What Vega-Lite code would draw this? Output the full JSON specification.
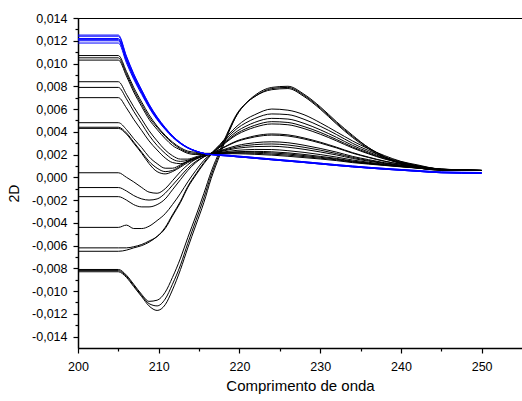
{
"$schema": "https://vega.github.io/schema/vega-lite/v6.json",
"autosize": "none",
"padding": {"left": 78, "top": 18, "right": 0, "bottom": 53},
"width": 444,
"height": 330,
"config": {
  "view": {"stroke": "black", "strokeWidth": 1},
  "font": "Liberation Sans",
  "axis": {"grid": false, "domainColor": "black", "tickColor": "black", "labelColor": "black", "titleColor": "black", "labelFont": "Liberation Sans", "titleFont": "Liberation Sans", "labelFontSize": 12.5, "domainWidth": 1.5, "tickWidth": 1.2, "labelOverlap": false, "titleFontWeight": "normal"}
},
"datasets": {"d": [
{"s":"k1","x":200,"y":-0.0044},{"s":"k1","x":205,"y":-0.0044},{"s":"k1","x":206,"y":-0.0042},{"s":"k1","x":206.9,"y":-0.0045},{"s":"k1","x":207.9,"y":-0.0045},{"s":"k1","x":208.8,"y":-0.0043},{"s":"k1","x":209.8,"y":-0.0038},{"s":"k1","x":210.8,"y":-0.0032},{"s":"k1","x":211.7,"y":-0.0024},{"s":"k1","x":212.7,"y":-0.0014},{"s":"k1","x":213.6,"y":-0.0004},{"s":"k1","x":214.6,"y":0.0006},{"s":"k1","x":215.6,"y":0.0015},{"s":"k1","x":216.5,"y":0.0021},
{"s":"k1","x":217.6,"y":0.00275},{"s":"k1","x":218.7,"y":0.00347},{"s":"k1","x":219.7,"y":0.00405},{"s":"k1","x":220.8,"y":0.00449},{"s":"k1","x":221.9,"y":0.00483},{"s":"k1","x":224,"y":0.00518},{"s":"k1","x":226,"y":0.00512},{"s":"k1","x":228,"y":0.00474},{"s":"k1","x":230,"y":0.00418},{"s":"k1","x":232,"y":0.00352},{"s":"k1","x":234,"y":0.00281},{"s":"k1","x":236,"y":0.00222},{"s":"k1","x":238,"y":0.0017},{"s":"k1","x":240,"y":0.00132},{"s":"k1","x":242,"y":0.00101},{"s":"k1","x":245,"y":0.00072},{"s":"k1","x":250,"y":0.0006},
{"s":"k2","x":200,"y":-0.0017},{"s":"k2","x":205,"y":-0.0017},{"s":"k2","x":206,"y":-0.002},{"s":"k2","x":206.9,"y":-0.0024},{"s":"k2","x":207.9,"y":-0.0026},{"s":"k2","x":208.8,"y":-0.0026},{"s":"k2","x":209.8,"y":-0.0024},{"s":"k2","x":210.8,"y":-0.0019},{"s":"k2","x":211.7,"y":-0.0011},{"s":"k2","x":212.7,"y":-0.0002},{"s":"k2","x":213.6,"y":0.0006},{"s":"k2","x":214.6,"y":0.0013},{"s":"k2","x":215.6,"y":0.0018},{"s":"k2","x":216.5,"y":0.0021},
{"s":"k2","x":217.6,"y":0.00269},{"s":"k2","x":218.7,"y":0.00334},{"s":"k2","x":219.7,"y":0.00387},{"s":"k2","x":220.8,"y":0.00427},{"s":"k2","x":221.9,"y":0.00457},{"s":"k2","x":224,"y":0.00489},{"s":"k2","x":226,"y":0.00482},{"s":"k2","x":228,"y":0.00446},{"s":"k2","x":230,"y":0.00395},{"s":"k2","x":232,"y":0.00333},{"s":"k2","x":234,"y":0.00267},{"s":"k2","x":236,"y":0.00212},{"s":"k2","x":238,"y":0.00164},{"s":"k2","x":240,"y":0.00128},{"s":"k2","x":242,"y":0.00099},{"s":"k2","x":245,"y":0.00071},{"s":"k2","x":250,"y":0.0006},
{"s":"k3","x":200,"y":-0.0009},{"s":"k3","x":205,"y":-0.0009},{"s":"k3","x":206,"y":-0.0012},{"s":"k3","x":206.9,"y":-0.0016},{"s":"k3","x":207.9,"y":-0.0019},{"s":"k3","x":208.8,"y":-0.002},{"s":"k3","x":209.8,"y":-0.0019},{"s":"k3","x":210.8,"y":-0.0014},{"s":"k3","x":211.7,"y":-0.0007},{"s":"k3","x":212.7,"y":0.0001},{"s":"k3","x":213.6,"y":0.0008},{"s":"k3","x":214.6,"y":0.0014},{"s":"k3","x":215.6,"y":0.0018},{"s":"k3","x":216.5,"y":0.0021},
{"s":"k3","x":217.6,"y":0.00265},{"s":"k3","x":218.7,"y":0.00326},{"s":"k3","x":219.7,"y":0.00375},{"s":"k3","x":220.8,"y":0.00412},{"s":"k3","x":221.9,"y":0.0044},{"s":"k3","x":224,"y":0.00469},{"s":"k3","x":226,"y":0.00462},{"s":"k3","x":228,"y":0.00428},{"s":"k3","x":230,"y":0.00379},{"s":"k3","x":232,"y":0.00321},{"s":"k3","x":234,"y":0.00258},{"s":"k3","x":236,"y":0.00206},{"s":"k3","x":238,"y":0.0016},{"s":"k3","x":240,"y":0.00126},{"s":"k3","x":242,"y":0.00098},{"s":"k3","x":245,"y":0.00071},{"s":"k3","x":250,"y":0.0006},
{"s":"k4","x":200,"y":0.0004},{"s":"k4","x":205,"y":0.0004},{"s":"k4","x":206,"y":0.0},{"s":"k4","x":206.9,"y":-0.0004},{"s":"k4","x":207.9,"y":-0.0009},{"s":"k4","x":208.8,"y":-0.0013},{"s":"k4","x":209.8,"y":-0.0014},{"s":"k4","x":210.8,"y":-0.001},{"s":"k4","x":211.7,"y":-0.0003},{"s":"k4","x":212.7,"y":0.0005},{"s":"k4","x":213.6,"y":0.0011},{"s":"k4","x":214.6,"y":0.0016},{"s":"k4","x":215.6,"y":0.0019},{"s":"k4","x":216.5,"y":0.0021},
{"s":"k4","x":217.6,"y":0.00247},{"s":"k4","x":218.7,"y":0.00288},{"s":"k4","x":219.7,"y":0.00321},{"s":"k4","x":220.8,"y":0.00345},{"s":"k4","x":221.9,"y":0.00364},{"s":"k4","x":224,"y":0.00381},{"s":"k4","x":226,"y":0.00373},{"s":"k4","x":228,"y":0.00346},{"s":"k4","x":230,"y":0.00309},{"s":"k4","x":232,"y":0.00265},{"s":"k4","x":234,"y":0.00217},{"s":"k4","x":236,"y":0.00177},{"s":"k4","x":238,"y":0.00142},{"s":"k4","x":240,"y":0.00115},{"s":"k4","x":242,"y":0.00093},{"s":"k4","x":245,"y":0.00069},{"s":"k4","x":250,"y":0.0006},
{"s":"k5","x":200,"y":0.0043},{"s":"k5","x":205,"y":0.0043},{"s":"k5","x":206,"y":0.0038},{"s":"k5","x":206.9,"y":0.003},{"s":"k5","x":207.9,"y":0.0021},{"s":"k5","x":208.8,"y":0.0012},{"s":"k5","x":209.8,"y":0.0005},{"s":"k5","x":210.8,"y":0.0003},{"s":"k5","x":211.7,"y":0.0005},{"s":"k5","x":212.7,"y":0.0009},{"s":"k5","x":213.6,"y":0.0013},{"s":"k5","x":214.6,"y":0.0016},{"s":"k5","x":215.6,"y":0.0019},{"s":"k5","x":216.5,"y":0.0021},
{"s":"k5","x":217.6,"y":0.00245},{"s":"k5","x":218.7,"y":0.00284},{"s":"k5","x":219.7,"y":0.00315},{"s":"k5","x":220.8,"y":0.00338},{"s":"k5","x":221.9,"y":0.00355},{"s":"k5","x":224,"y":0.00371},{"s":"k5","x":226,"y":0.00363},{"s":"k5","x":228,"y":0.00337},{"s":"k5","x":230,"y":0.00301},{"s":"k5","x":232,"y":0.00259},{"s":"k5","x":234,"y":0.00212},{"s":"k5","x":236,"y":0.00174},{"s":"k5","x":238,"y":0.0014},{"s":"k5","x":240,"y":0.00114},{"s":"k5","x":242,"y":0.00092},{"s":"k5","x":245,"y":0.00069},{"s":"k5","x":250,"y":0.0006},
{"s":"k6","x":200,"y":0.0044},{"s":"k6","x":205,"y":0.0044},{"s":"k6","x":206,"y":0.0039},{"s":"k6","x":206.9,"y":0.0031},{"s":"k6","x":207.9,"y":0.0022},{"s":"k6","x":208.8,"y":0.0014},{"s":"k6","x":209.8,"y":0.0008},{"s":"k6","x":210.8,"y":0.0005},{"s":"k6","x":211.7,"y":0.0006},{"s":"k6","x":212.7,"y":0.001},{"s":"k6","x":213.6,"y":0.0014},{"s":"k6","x":214.6,"y":0.0017},{"s":"k6","x":215.6,"y":0.0019},{"s":"k6","x":216.5,"y":0.0021},
{"s":"k6","x":217.6,"y":0.00233},{"s":"k6","x":218.7,"y":0.00259},{"s":"k6","x":219.7,"y":0.00279},{"s":"k6","x":220.8,"y":0.00294},{"s":"k6","x":221.9,"y":0.00304},{"s":"k6","x":224,"y":0.00312},{"s":"k6","x":226,"y":0.00304},{"s":"k6","x":228,"y":0.00282},{"s":"k6","x":230,"y":0.00254},{"s":"k6","x":232,"y":0.00222},{"s":"k6","x":234,"y":0.00184},{"s":"k6","x":236,"y":0.00155},{"s":"k6","x":238,"y":0.00128},{"s":"k6","x":240,"y":0.00107},{"s":"k6","x":242,"y":0.00088},{"s":"k6","x":245,"y":0.00068},{"s":"k6","x":250,"y":0.0006},
{"s":"k7","x":200,"y":0.0048},{"s":"k7","x":205,"y":0.0048},{"s":"k7","x":206,"y":0.0042},{"s":"k7","x":206.9,"y":0.0034},{"s":"k7","x":207.9,"y":0.0026},{"s":"k7","x":208.8,"y":0.0018},{"s":"k7","x":209.8,"y":0.0012},{"s":"k7","x":210.8,"y":0.0008},{"s":"k7","x":211.7,"y":0.0008},{"s":"k7","x":212.7,"y":0.0011},{"s":"k7","x":213.6,"y":0.0014},{"s":"k7","x":214.6,"y":0.0017},{"s":"k7","x":215.6,"y":0.0019},{"s":"k7","x":216.5,"y":0.0021},
{"s":"k7","x":217.6,"y":0.00229},{"s":"k7","x":218.7,"y":0.0025},{"s":"k7","x":219.7,"y":0.00267},{"s":"k7","x":220.8,"y":0.00279},{"s":"k7","x":221.9,"y":0.00287},{"s":"k7","x":224,"y":0.00293},{"s":"k7","x":226,"y":0.00284},{"s":"k7","x":228,"y":0.00264},{"s":"k7","x":230,"y":0.00239},{"s":"k7","x":232,"y":0.00209},{"s":"k7","x":234,"y":0.00175},{"s":"k7","x":236,"y":0.00148},{"s":"k7","x":238,"y":0.00124},{"s":"k7","x":240,"y":0.00104},{"s":"k7","x":242,"y":0.00087},{"s":"k7","x":245,"y":0.00067},{"s":"k7","x":250,"y":0.0006},
{"s":"k8","x":200,"y":0.007},{"s":"k8","x":205,"y":0.007},{"s":"k8","x":206,"y":0.0061},{"s":"k8","x":206.9,"y":0.0051},{"s":"k8","x":207.9,"y":0.0041},{"s":"k8","x":208.8,"y":0.0032},{"s":"k8","x":209.8,"y":0.0024},{"s":"k8","x":210.8,"y":0.0017},{"s":"k8","x":211.7,"y":0.0013},{"s":"k8","x":212.7,"y":0.0012},{"s":"k8","x":213.6,"y":0.0014},{"s":"k8","x":214.6,"y":0.0017},{"s":"k8","x":215.6,"y":0.0019},{"s":"k8","x":216.5,"y":0.0021},
{"s":"k8","x":217.6,"y":0.00225},{"s":"k8","x":218.7,"y":0.00242},{"s":"k8","x":219.7,"y":0.00255},{"s":"k8","x":220.8,"y":0.00264},{"s":"k8","x":221.9,"y":0.0027},{"s":"k8","x":224,"y":0.00273},{"s":"k8","x":226,"y":0.00264},{"s":"k8","x":228,"y":0.00246},{"s":"k8","x":230,"y":0.00223},{"s":"k8","x":232,"y":0.00197},{"s":"k8","x":234,"y":0.00166},{"s":"k8","x":236,"y":0.00142},{"s":"k8","x":238,"y":0.0012},{"s":"k8","x":240,"y":0.00102},{"s":"k8","x":242,"y":0.00086},{"s":"k8","x":245,"y":0.00067},{"s":"k8","x":250,"y":0.0006},
{"s":"k9","x":200,"y":0.0079},{"s":"k9","x":205,"y":0.0079},{"s":"k9","x":206,"y":0.0069},{"s":"k9","x":206.9,"y":0.0058},{"s":"k9","x":207.9,"y":0.0047},{"s":"k9","x":208.8,"y":0.0037},{"s":"k9","x":209.8,"y":0.0028},{"s":"k9","x":210.8,"y":0.0021},{"s":"k9","x":211.7,"y":0.0016},{"s":"k9","x":212.7,"y":0.0014},{"s":"k9","x":213.6,"y":0.0015},{"s":"k9","x":214.6,"y":0.0017},{"s":"k9","x":215.6,"y":0.0019},{"s":"k9","x":216.5,"y":0.0021},
{"s":"k9","x":217.6,"y":0.00219},{"s":"k9","x":218.7,"y":0.00229},{"s":"k9","x":219.7,"y":0.00237},{"s":"k9","x":220.8,"y":0.00242},{"s":"k9","x":221.9,"y":0.00245},{"s":"k9","x":224,"y":0.00244},{"s":"k9","x":226,"y":0.00234},{"s":"k9","x":228,"y":0.00219},{"s":"k9","x":230,"y":0.002},{"s":"k9","x":232,"y":0.00178},{"s":"k9","x":234,"y":0.00152},{"s":"k9","x":236,"y":0.00132},{"s":"k9","x":238,"y":0.00114},{"s":"k9","x":240,"y":0.00098},{"s":"k9","x":242,"y":0.00084},{"s":"k9","x":245,"y":0.00066},{"s":"k9","x":250,"y":0.0006},
{"s":"k10","x":200,"y":0.0084},{"s":"k10","x":205,"y":0.0084},{"s":"k10","x":206,"y":0.0073},{"s":"k10","x":206.9,"y":0.0062},{"s":"k10","x":207.9,"y":0.0051},{"s":"k10","x":208.8,"y":0.0041},{"s":"k10","x":209.8,"y":0.0032},{"s":"k10","x":210.8,"y":0.0024},{"s":"k10","x":211.7,"y":0.0019},{"s":"k10","x":212.7,"y":0.0016},{"s":"k10","x":213.6,"y":0.0016},{"s":"k10","x":214.6,"y":0.0018},{"s":"k10","x":215.6,"y":0.002},{"s":"k10","x":216.5,"y":0.0021},
{"s":"k10","x":217.6,"y":0.00215},{"s":"k10","x":218.7,"y":0.00221},{"s":"k10","x":219.7,"y":0.00225},{"s":"k10","x":220.8,"y":0.00227},{"s":"k10","x":221.9,"y":0.00228},{"s":"k10","x":224,"y":0.00224},{"s":"k10","x":226,"y":0.00215},{"s":"k10","x":228,"y":0.00201},{"s":"k10","x":230,"y":0.00184},{"s":"k10","x":232,"y":0.00166},{"s":"k10","x":234,"y":0.00143},{"s":"k10","x":236,"y":0.00126},{"s":"k10","x":238,"y":0.0011},{"s":"k10","x":240,"y":0.00096},{"s":"k10","x":242,"y":0.00083},{"s":"k10","x":245,"y":0.00066},{"s":"k10","x":250,"y":0.0006},
{"s":"k11","x":200,"y":0.0103},{"s":"k11","x":205,"y":0.0103},{"s":"k11","x":206,"y":0.0089},{"s":"k11","x":206.9,"y":0.0075},{"s":"k11","x":207.9,"y":0.0062},{"s":"k11","x":208.8,"y":0.0051},{"s":"k11","x":209.8,"y":0.0042},{"s":"k11","x":210.8,"y":0.0034},{"s":"k11","x":211.7,"y":0.0028},{"s":"k11","x":212.7,"y":0.0024},{"s":"k11","x":213.6,"y":0.0021},{"s":"k11","x":214.6,"y":0.002},{"s":"k11","x":215.6,"y":0.002},{"s":"k11","x":216.5,"y":0.0021},
{"s":"k11","x":217.6,"y":0.00213},{"s":"k11","x":218.7,"y":0.00217},{"s":"k11","x":219.7,"y":0.00219},{"s":"k11","x":220.8,"y":0.0022},{"s":"k11","x":221.9,"y":0.0022},{"s":"k11","x":224,"y":0.00214},{"s":"k11","x":226,"y":0.00205},{"s":"k11","x":228,"y":0.00191},{"s":"k11","x":230,"y":0.00176},{"s":"k11","x":232,"y":0.0016},{"s":"k11","x":234,"y":0.00138},{"s":"k11","x":236,"y":0.00123},{"s":"k11","x":238,"y":0.00108},{"s":"k11","x":240,"y":0.00095},{"s":"k11","x":242,"y":0.00082},{"s":"k11","x":245,"y":0.00066},{"s":"k11","x":250,"y":0.0006},
{"s":"k12","x":200,"y":0.0105},{"s":"k12","x":205,"y":0.0105},{"s":"k12","x":206,"y":0.0091},{"s":"k12","x":206.9,"y":0.0077},{"s":"k12","x":207.9,"y":0.0064},{"s":"k12","x":208.8,"y":0.0053},{"s":"k12","x":209.8,"y":0.0044},{"s":"k12","x":210.8,"y":0.0036},{"s":"k12","x":211.7,"y":0.003},{"s":"k12","x":212.7,"y":0.0025},{"s":"k12","x":213.6,"y":0.0022},{"s":"k12","x":214.6,"y":0.0021},{"s":"k12","x":215.6,"y":0.0021},{"s":"k12","x":216.5,"y":0.0021},
{"s":"k12","x":217.6,"y":0.00211},{"s":"k12","x":218.7,"y":0.00213},{"s":"k12","x":219.7,"y":0.00213},{"s":"k12","x":220.8,"y":0.00212},{"s":"k12","x":221.9,"y":0.00211},{"s":"k12","x":224,"y":0.00204},{"s":"k12","x":226,"y":0.00195},{"s":"k12","x":228,"y":0.00182},{"s":"k12","x":230,"y":0.00168},{"s":"k12","x":232,"y":0.00154},{"s":"k12","x":234,"y":0.00134},{"s":"k12","x":236,"y":0.0012},{"s":"k12","x":238,"y":0.00106},{"s":"k12","x":240,"y":0.00094},{"s":"k12","x":242,"y":0.00082},{"s":"k12","x":245,"y":0.00066},{"s":"k12","x":250,"y":0.0006},
{"s":"k13","x":200,"y":0.0107},{"s":"k13","x":205,"y":0.0107},{"s":"k13","x":206,"y":0.0093},{"s":"k13","x":206.9,"y":0.0079},{"s":"k13","x":207.9,"y":0.0066},{"s":"k13","x":208.8,"y":0.0055},{"s":"k13","x":209.8,"y":0.0045},{"s":"k13","x":210.8,"y":0.0037},{"s":"k13","x":211.7,"y":0.0031},{"s":"k13","x":212.7,"y":0.0026},{"s":"k13","x":213.6,"y":0.0023},{"s":"k13","x":214.6,"y":0.0022},{"s":"k13","x":215.6,"y":0.0021},{"s":"k13","x":216.5,"y":0.0021},
{"s":"k13","x":217.6,"y":0.00209},{"s":"k13","x":218.7,"y":0.00208},{"s":"k13","x":219.7,"y":0.00207},{"s":"k13","x":220.8,"y":0.00205},{"s":"k13","x":221.9,"y":0.00202},{"s":"k13","x":224,"y":0.00195},{"s":"k13","x":226,"y":0.00185},{"s":"k13","x":228,"y":0.00173},{"s":"k13","x":230,"y":0.00161},{"s":"k13","x":232,"y":0.00147},{"s":"k13","x":234,"y":0.00129},{"s":"k13","x":236,"y":0.00116},{"s":"k13","x":238,"y":0.00104},{"s":"k13","x":240,"y":0.00092},{"s":"k13","x":242,"y":0.00081},{"s":"k13","x":245,"y":0.00065},{"s":"k13","x":250,"y":0.0006},
{"s":"k14","x":200,"y":-0.0062},{"s":"k14","x":205,"y":-0.0062},{"s":"k14","x":206,"y":-0.0062},{"s":"k14","x":206.9,"y":-0.0061},{"s":"k14","x":207.9,"y":-0.0059},{"s":"k14","x":208.8,"y":-0.0056},{"s":"k14","x":209.8,"y":-0.0052},{"s":"k14","x":210.8,"y":-0.0044},{"s":"k14","x":211.7,"y":-0.0033},{"s":"k14","x":212.7,"y":-0.0021},{"s":"k14","x":213.6,"y":-0.0008},{"s":"k14","x":214.6,"y":0.0003},{"s":"k14","x":215.6,"y":0.0013},{"s":"k14","x":216.5,"y":0.0021},
{"s":"k14","x":217.6,"y":0.0029},{"s":"k14","x":218.7,"y":0.0038},{"s":"k14","x":219.7,"y":0.0045},{"s":"k14","x":220.8,"y":0.0051},{"s":"k14","x":221.9,"y":0.0055},{"s":"k14","x":224,"y":0.006},{"s":"k14","x":226,"y":0.0059},{"s":"k14","x":228,"y":0.0055},{"s":"k14","x":230,"y":0.0048},{"s":"k14","x":232,"y":0.004},{"s":"k14","x":234,"y":0.0032},{"s":"k14","x":236,"y":0.0025},{"s":"k14","x":238,"y":0.0019},{"s":"k14","x":240,"y":0.0014},{"s":"k14","x":242,"y":0.0011},{"s":"k14","x":245,"y":0.0007},{"s":"k14","x":250,"y":0.0006},
{"s":"k15","x":200,"y":-0.0065},{"s":"k15","x":205,"y":-0.0065},{"s":"k15","x":206,"y":-0.0064},{"s":"k15","x":206.9,"y":-0.0062},{"s":"k15","x":207.9,"y":-0.006},{"s":"k15","x":208.8,"y":-0.0057},{"s":"k15","x":209.8,"y":-0.0052},{"s":"k15","x":210.8,"y":-0.0045},{"s":"k15","x":211.7,"y":-0.0034},{"s":"k15","x":212.7,"y":-0.0022},{"s":"k15","x":213.6,"y":-0.0009},{"s":"k15","x":214.6,"y":0.0002},{"s":"k15","x":215.6,"y":0.0012},{"s":"k15","x":216.5,"y":0.002},
{"s":"k15","x":217.6,"y":0.00283},{"s":"k15","x":218.7,"y":0.00364},{"s":"k15","x":219.7,"y":0.00429},{"s":"k15","x":220.8,"y":0.00479},{"s":"k15","x":221.9,"y":0.00517},{"s":"k15","x":224,"y":0.00557},{"s":"k15","x":226,"y":0.00551},{"s":"k15","x":228,"y":0.0051},{"s":"k15","x":230,"y":0.00449},{"s":"k15","x":232,"y":0.00377},{"s":"k15","x":234,"y":0.00299},{"s":"k15","x":236,"y":0.00235},{"s":"k15","x":238,"y":0.00178},{"s":"k15","x":240,"y":0.00137},{"s":"k15","x":242,"y":0.00103},{"s":"k15","x":245,"y":0.00073},{"s":"k15","x":250,"y":0.0006},
{"s":"s1","x":200,"y":-0.0081},{"s":"s1","x":205,"y":-0.0081},{"s":"s1","x":206,"y":-0.0086},{"s":"s1","x":206.9,"y":-0.0094},{"s":"s1","x":207.9,"y":-0.0103},{"s":"s1","x":208.8,"y":-0.0109},{"s":"s1","x":209.8,"y":-0.0108},{"s":"s1","x":210.8,"y":-0.0101},{"s":"s1","x":211.7,"y":-0.0088},{"s":"s1","x":212.7,"y":-0.0071},{"s":"s1","x":213.6,"y":-0.0053},{"s":"s1","x":214.6,"y":-0.0034},{"s":"s1","x":215.6,"y":-0.0014},{"s":"s1","x":216.5,"y":0.0005},
{"s":"s1","x":217.6,"y":0.0024},{"s":"s1","x":218.7,"y":0.0042},{"s":"s1","x":219.7,"y":0.0056},{"s":"s1","x":220.8,"y":0.0065},{"s":"s1","x":221.9,"y":0.0071},{"s":"s1","x":224,"y":0.0077},{"s":"s1","x":226,"y":0.0078},{"s":"s1","x":228,"y":0.0071},{"s":"s1","x":230,"y":0.006},{"s":"s1","x":232,"y":0.0047},{"s":"s1","x":234,"y":0.0035},{"s":"s1","x":236,"y":0.0025},{"s":"s1","x":238,"y":0.0017},{"s":"s1","x":240,"y":0.0012},{"s":"s1","x":242,"y":0.00085},{"s":"s1","x":245,"y":0.00064},{"s":"s1","x":250,"y":0.0006},
{"s":"s2","x":200,"y":-0.0082},{"s":"s2","x":205,"y":-0.0082},{"s":"s2","x":206,"y":-0.0087},{"s":"s2","x":206.9,"y":-0.0095},{"s":"s2","x":207.9,"y":-0.0104},{"s":"s2","x":208.8,"y":-0.0111},{"s":"s2","x":209.8,"y":-0.0113},{"s":"s2","x":210.8,"y":-0.0107},{"s":"s2","x":211.7,"y":-0.0094},{"s":"s2","x":212.7,"y":-0.0077},{"s":"s2","x":213.6,"y":-0.0058},{"s":"s2","x":214.6,"y":-0.0038},{"s":"s2","x":215.6,"y":-0.0018},{"s":"s2","x":216.5,"y":0.0002},
{"s":"s2","x":217.6,"y":0.0022},{"s":"s2","x":218.7,"y":0.0041},{"s":"s2","x":219.7,"y":0.0055},{"s":"s2","x":220.8,"y":0.0065},{"s":"s2","x":221.9,"y":0.0071},{"s":"s2","x":224,"y":0.0078},{"s":"s2","x":226,"y":0.0079},{"s":"s2","x":228,"y":0.0072},{"s":"s2","x":230,"y":0.0061},{"s":"s2","x":232,"y":0.0048},{"s":"s2","x":234,"y":0.0036},{"s":"s2","x":236,"y":0.0026},{"s":"s2","x":238,"y":0.0018},{"s":"s2","x":240,"y":0.0012},{"s":"s2","x":242,"y":0.00085},{"s":"s2","x":245,"y":0.00063},{"s":"s2","x":250,"y":0.0006},
{"s":"s3","x":200,"y":-0.0083},{"s":"s3","x":205,"y":-0.0083},{"s":"s3","x":206,"y":-0.0088},{"s":"s3","x":206.9,"y":-0.0096},{"s":"s3","x":207.9,"y":-0.0105},{"s":"s3","x":208.8,"y":-0.0113},{"s":"s3","x":209.8,"y":-0.0117},{"s":"s3","x":210.8,"y":-0.0112},{"s":"s3","x":211.7,"y":-0.0099},{"s":"s3","x":212.7,"y":-0.0081},{"s":"s3","x":213.6,"y":-0.0062},{"s":"s3","x":214.6,"y":-0.0042},{"s":"s3","x":215.6,"y":-0.0022},{"s":"s3","x":216.5,"y":-0.0001},
{"s":"s3","x":217.6,"y":0.002},{"s":"s3","x":218.7,"y":0.004},{"s":"s3","x":219.7,"y":0.0055},{"s":"s3","x":220.8,"y":0.0065},{"s":"s3","x":221.9,"y":0.0072},{"s":"s3","x":224,"y":0.0079},{"s":"s3","x":226,"y":0.008},{"s":"s3","x":228,"y":0.0073},{"s":"s3","x":230,"y":0.0062},{"s":"s3","x":232,"y":0.0049},{"s":"s3","x":234,"y":0.0037},{"s":"s3","x":236,"y":0.0026},{"s":"s3","x":238,"y":0.0018},{"s":"s3","x":240,"y":0.0012},{"s":"s3","x":242,"y":0.00085},{"s":"s3","x":245,"y":0.00062},{"s":"s3","x":250,"y":0.0006},
{"s":"b1","x":200,"y":0.0125},{"s":"b1","x":205,"y":0.0125},{"s":"b1","x":206,"y":0.01066},{"s":"b1","x":206.9,"y":0.00911},{"s":"b1","x":207.9,"y":0.00767},{"s":"b1","x":208.8,"y":0.00644},{"s":"b1","x":209.8,"y":0.00531},{"s":"b1","x":210.8,"y":0.00438},{"s":"b1","x":211.7,"y":0.00366},{"s":"b1","x":212.7,"y":0.00304},{"s":"b1","x":213.6,"y":0.00262},{"s":"b1","x":214.6,"y":0.00232},{"s":"b1","x":215.6,"y":0.00211},{"s":"b1","x":216.5,"y":0.002},
{"s":"b1","x":217.6,"y":0.00199},{"s":"b1","x":218.7,"y":0.00194},{"s":"b1","x":219.7,"y":0.00187},{"s":"b1","x":220.8,"y":0.00181},{"s":"b1","x":221.9,"y":0.00174},{"s":"b1","x":224,"y":0.00161},{"s":"b1","x":226,"y":0.00149},{"s":"b1","x":228,"y":0.00137},{"s":"b1","x":230,"y":0.00124},{"s":"b1","x":232,"y":0.00111},{"s":"b1","x":234,"y":0.00099},{"s":"b1","x":236,"y":0.00088},{"s":"b1","x":238,"y":0.00078},{"s":"b1","x":240,"y":0.00069},{"s":"b1","x":242,"y":0.0006},{"s":"b1","x":245,"y":0.00047},{"s":"b1","x":250,"y":0.00042},
{"s":"b2","x":200,"y":0.0124},{"s":"b2","x":205,"y":0.0124},{"s":"b2","x":206,"y":0.01057},{"s":"b2","x":206.9,"y":0.00904},{"s":"b2","x":207.9,"y":0.00761},{"s":"b2","x":208.8,"y":0.00639},{"s":"b2","x":209.8,"y":0.00527},{"s":"b2","x":210.8,"y":0.00435},{"s":"b2","x":211.7,"y":0.00364},{"s":"b2","x":212.7,"y":0.00303},{"s":"b2","x":213.6,"y":0.00262},{"s":"b2","x":214.6,"y":0.00231},{"s":"b2","x":215.6,"y":0.0021},{"s":"b2","x":216.5,"y":0.002},
{"s":"b2","x":217.6,"y":0.00199},{"s":"b2","x":218.7,"y":0.00194},{"s":"b2","x":219.7,"y":0.00187},{"s":"b2","x":220.8,"y":0.00181},{"s":"b2","x":221.9,"y":0.00174},{"s":"b2","x":224,"y":0.00161},{"s":"b2","x":226,"y":0.00149},{"s":"b2","x":228,"y":0.00137},{"s":"b2","x":230,"y":0.00124},{"s":"b2","x":232,"y":0.00111},{"s":"b2","x":234,"y":0.00099},{"s":"b2","x":236,"y":0.00088},{"s":"b2","x":238,"y":0.00078},{"s":"b2","x":240,"y":0.00069},{"s":"b2","x":242,"y":0.0006},{"s":"b2","x":245,"y":0.00047},{"s":"b2","x":250,"y":0.00042},
{"s":"b3","x":200,"y":0.0122},{"s":"b3","x":205,"y":0.0122},{"s":"b3","x":206,"y":0.0104},{"s":"b3","x":206.9,"y":0.0089},{"s":"b3","x":207.9,"y":0.0075},{"s":"b3","x":208.8,"y":0.0063},{"s":"b3","x":209.8,"y":0.0052},{"s":"b3","x":210.8,"y":0.0043},{"s":"b3","x":211.7,"y":0.0036},{"s":"b3","x":212.7,"y":0.003},{"s":"b3","x":213.6,"y":0.0026},{"s":"b3","x":214.6,"y":0.0023},{"s":"b3","x":215.6,"y":0.0021},{"s":"b3","x":216.5,"y":0.002},
{"s":"b3","x":217.6,"y":0.00195},{"s":"b3","x":218.7,"y":0.0019},{"s":"b3","x":219.7,"y":0.00183},{"s":"b3","x":220.8,"y":0.00177},{"s":"b3","x":221.9,"y":0.0017},{"s":"b3","x":224,"y":0.00157},{"s":"b3","x":226,"y":0.00145},{"s":"b3","x":228,"y":0.00133},{"s":"b3","x":230,"y":0.0012},{"s":"b3","x":232,"y":0.00107},{"s":"b3","x":234,"y":0.00095},{"s":"b3","x":236,"y":0.00084},{"s":"b3","x":238,"y":0.00074},{"s":"b3","x":240,"y":0.00065},{"s":"b3","x":242,"y":0.00056},{"s":"b3","x":245,"y":0.00043},{"s":"b3","x":250,"y":0.00038},
{"s":"b4","x":200,"y":0.0121},{"s":"b4","x":205,"y":0.0121},{"s":"b4","x":206,"y":0.01032},{"s":"b4","x":206.9,"y":0.00883},{"s":"b4","x":207.9,"y":0.00744},{"s":"b4","x":208.8,"y":0.00626},{"s":"b4","x":209.8,"y":0.00517},{"s":"b4","x":210.8,"y":0.00427},{"s":"b4","x":211.7,"y":0.00358},{"s":"b4","x":212.7,"y":0.00299},{"s":"b4","x":213.6,"y":0.00259},{"s":"b4","x":214.6,"y":0.0023},{"s":"b4","x":215.6,"y":0.0021},{"s":"b4","x":216.5,"y":0.002},
{"s":"b4","x":217.6,"y":0.00192},{"s":"b4","x":218.7,"y":0.00187},{"s":"b4","x":219.7,"y":0.0018},{"s":"b4","x":220.8,"y":0.00174},{"s":"b4","x":221.9,"y":0.00167},{"s":"b4","x":224,"y":0.00154},{"s":"b4","x":226,"y":0.00142},{"s":"b4","x":228,"y":0.0013},{"s":"b4","x":230,"y":0.00117},{"s":"b4","x":232,"y":0.00104},{"s":"b4","x":234,"y":0.00092},{"s":"b4","x":236,"y":0.00081},{"s":"b4","x":238,"y":0.00071},{"s":"b4","x":240,"y":0.00062},{"s":"b4","x":242,"y":0.00053},{"s":"b4","x":245,"y":0.0004},{"s":"b4","x":250,"y":0.00035},
{"s":"b5","x":200,"y":0.012},{"s":"b5","x":205,"y":0.012},{"s":"b5","x":206,"y":0.01023},{"s":"b5","x":206.9,"y":0.00876},{"s":"b5","x":207.9,"y":0.00739},{"s":"b5","x":208.8,"y":0.00621},{"s":"b5","x":209.8,"y":0.00513},{"s":"b5","x":210.8,"y":0.00425},{"s":"b5","x":211.7,"y":0.00356},{"s":"b5","x":212.7,"y":0.00297},{"s":"b5","x":213.6,"y":0.00258},{"s":"b5","x":214.6,"y":0.00229},{"s":"b5","x":215.6,"y":0.0021},{"s":"b5","x":216.5,"y":0.002},
{"s":"b5","x":217.6,"y":0.00192},{"s":"b5","x":218.7,"y":0.00187},{"s":"b5","x":219.7,"y":0.0018},{"s":"b5","x":220.8,"y":0.00174},{"s":"b5","x":221.9,"y":0.00167},{"s":"b5","x":224,"y":0.00154},{"s":"b5","x":226,"y":0.00142},{"s":"b5","x":228,"y":0.0013},{"s":"b5","x":230,"y":0.00117},{"s":"b5","x":232,"y":0.00104},{"s":"b5","x":234,"y":0.00092},{"s":"b5","x":236,"y":0.00081},{"s":"b5","x":238,"y":0.00071},{"s":"b5","x":240,"y":0.00062},{"s":"b5","x":242,"y":0.00053},{"s":"b5","x":245,"y":0.0004},{"s":"b5","x":250,"y":0.00035},
{"s":"b6","x":200,"y":0.0118},{"s":"b6","x":205,"y":0.0118},{"s":"b6","x":206,"y":0.01006},{"s":"b6","x":206.9,"y":0.00862},{"s":"b6","x":207.9,"y":0.00727},{"s":"b6","x":208.8,"y":0.00612},{"s":"b6","x":209.8,"y":0.00506},{"s":"b6","x":210.8,"y":0.0042},{"s":"b6","x":211.7,"y":0.00352},{"s":"b6","x":212.7,"y":0.00295},{"s":"b6","x":213.6,"y":0.00257},{"s":"b6","x":214.6,"y":0.00228},{"s":"b6","x":215.6,"y":0.00209},{"s":"b6","x":216.5,"y":0.002},
{"s":"b6","x":217.6,"y":0.00192},{"s":"b6","x":218.7,"y":0.00187},{"s":"b6","x":219.7,"y":0.0018},{"s":"b6","x":220.8,"y":0.00174},{"s":"b6","x":221.9,"y":0.00167},{"s":"b6","x":224,"y":0.00154},{"s":"b6","x":226,"y":0.00142},{"s":"b6","x":228,"y":0.0013},{"s":"b6","x":230,"y":0.00117},{"s":"b6","x":232,"y":0.00104},{"s":"b6","x":234,"y":0.00092},{"s":"b6","x":236,"y":0.00081},{"s":"b6","x":238,"y":0.00071},{"s":"b6","x":240,"y":0.00062},{"s":"b6","x":242,"y":0.00053},{"s":"b6","x":245,"y":0.0004},{"s":"b6","x":250,"y":0.00035}
]},
"data": {"name": "d"},
"encoding": {
  "x": {"field": "x", "type": "quantitative",
    "scale": {"domain": [200, 255], "nice": false, "zero": false},
    "axis": {"title": "Comprimento de onda", "titleFontSize": 15, "titlePadding": 6,
      "values": [200,205,210,215,220,225,230,235,240,245,250],
      "labelExpr": "datum.value % 10 == 0 ? datum.label : ''",
      "tickSize": {"condition": {"test": "datum.value % 10 == 0", "value": 5}, "value": 3},
      "labelPadding": 7, "labelFlush": false}},
  "y": {"field": "y", "type": "quantitative",
    "scale": {"domain": [-0.015, 0.014], "nice": false, "zero": false},
    "axis": {"title": "2D", "titleFontSize": 14, "titlePadding": 10, "titleY": 175,
      "values": [-0.014,-0.013,-0.012,-0.011,-0.01,-0.009,-0.008,-0.007,-0.006,-0.005,-0.004,-0.003,-0.002,-0.001,0,0.001,0.002,0.003,0.004,0.005,0.006,0.007,0.008,0.009,0.01,0.011,0.012,0.013,0.014],
      "labelExpr": "abs(round(datum.value*1000)) % 2 == 0 ? replace(replace(format(datum.value, '.3f'), '.', ','), '\u2212', '-') : ''",
      "tickSize": {"condition": {"test": "abs(round(datum.value*1000)) % 2 == 0", "value": 5}, "value": 3},
      "labelPadding": 6}}
},
"layer": [
  {"transform": [{"filter": "indexof(datum.s, 'b') != 0"}],
   "mark": {"type": "line", "color": "black", "strokeWidth": 1, "interpolate": "monotone"},
   "encoding": {"detail": {"field": "s"}}},
  {"transform": [{"filter": "indexof(datum.s, 'b') == 0"}],
   "mark": {"type": "line", "color": "#0000ff", "strokeWidth": 1, "interpolate": "monotone"},
   "encoding": {"detail": {"field": "s"}}}
]
}
